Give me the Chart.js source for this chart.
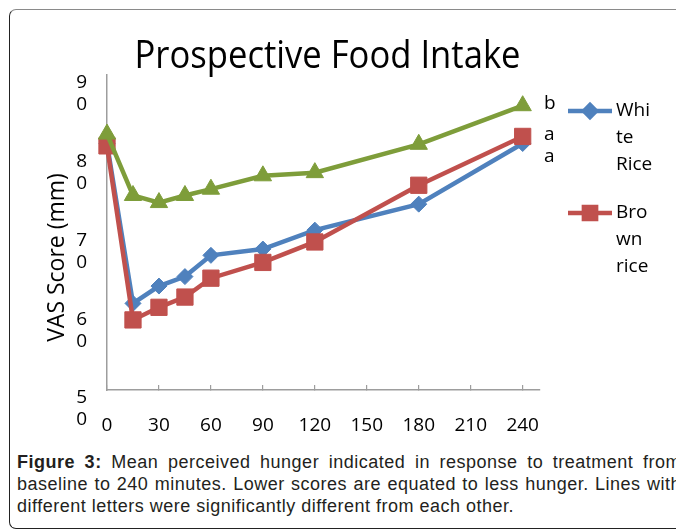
<!DOCTYPE html>
<html>
<head>
<meta charset="utf-8">
<script src="https://cdn.jsdelivr.net/npm/chart.js@4.4.1/dist/chart.umd.min.js"></script>
<style>
    html, body { margin: 0; padding: 0; background: #fff; width: 676px; height: 530px; overflow: hidden; position: relative; }
    #box { position: absolute; left: 9px; top: 9px; width: 720px; height: 518px; border: 1.5px solid #8a8a8a; border-left-color: #222; border-bottom-color: #222; border-radius: 7px; }
    #grafico { position: absolute; left: 0; top: 0; }
    #caption { position: absolute; left: 12px; top: 443px; width: 664px; padding: 8px 0 0 5px; background: #fff;
        font-family: "Liberation Sans Narrow", "Arial Narrow", "Liberation Sans", sans-serif; font-size: 18px; letter-spacing: 0.5px; line-height: 22px;
        text-align: justify; color: #231f20; }
</style>
</head>
<body>
<div id="box"></div>
<canvas id="grafico" width="676" height="476"></canvas>
<div id="caption"><b>Figure 3:</b> Mean perceived hunger indicated in response to treatment from baseline to 240 minutes. Lower scores are equated to less hunger. Lines with different letters were significantly different from each other.</div>
<script>
// Dados (minutos e escore VAS em mm)
const tempos = [0, 15, 30, 45, 60, 90, 120, 180, 240];
const arrozBranco = [81.3, 61.0, 63.2, 64.4, 67.1, 67.9, 70.3, 73.6, 81.3];
const arrozIntegral = [81.0, 58.9, 60.5, 61.8, 64.2, 66.2, 68.8, 76.0, 82.2];
const terceiraSerie = [82.5, 74.7, 73.8, 74.7, 75.5, 77.2, 77.6, 81.2, 86.1];
const nomesSeries = ['White Rice', 'Brown rice', ''];
const letras = ['a', 'a', 'b'];
const ticksX = [0, 30, 60, 90, 120, 150, 180, 210, 240];
const ticksY = [50, 60, 70, 80, 90];
const titulo = 'Prospective Food Intake';

const cores = ['#4F81BD', '#C0504D', '#7E9D3A'];
const estilos = ['rectRot', 'rect', 'triangle'];
const raios = [8, 11.5, 10];

function pontos(valores) {
    return tempos.map((t, i) => ({ x: t, y: valores[i] }));
}

// Quebra o texto como o Excel faz na legenda estreita
function quebrarTexto(ctx, texto, largura) {
    const linhas = [];
    let atual = '';
    texto.split(' ').forEach(palavra => {
        const tentativa = atual ? atual + ' ' + palavra : palavra;
        if (ctx.measureText(tentativa).width <= largura) { atual = tentativa; return; }
        if (atual) { linhas.push(atual); atual = ''; }
        for (const ch of palavra) {
            if (atual && ctx.measureText(atual + ch).width > largura) { linhas.push(atual); atual = ch; }
            else atual += ch;
        }
    });
    if (atual) linhas.push(atual);
    return linhas;
}

function desenharPonto(ctx, estilo, raio, x, y) {
    Chart.helpers.drawPoint(ctx, { pointStyle: estilo, radius: raio, borderWidth: 1, rotation: 0 }, x, y);
}

const extras = {
    id: 'extras',
    afterDraw(chart) {
        const { ctx, chartArea, scales } = chart;
        ctx.save();
        ctx.fillStyle = '#000';

        // título
        ctx.font = "39px 'Open Sans'";
        ctx.textAlign = 'center';
        ctx.textBaseline = 'alphabetic';
        ctx.fillText(titulo, (chartArea.left + chartArea.right) / 2 + 4, 68, 386);

        // título do eixo Y
        ctx.save();
        ctx.font = "23px 'Open Sans'";
        ctx.translate(57, (chartArea.top + chartArea.bottom) / 2 + 25);
        ctx.rotate(-Math.PI / 2);
        ctx.textBaseline = 'middle';
        ctx.fillText('VAS Score (mm)', 0, 0);
        ctx.restore();

        // letras de significância ao lado do último ponto
        ctx.font = "19px 'Open Sans'";
        ctx.textAlign = 'left';
        ctx.textBaseline = 'middle';
        const marcas = chart.data.datasets.map((ds, i) => ({
            letra: letras[i],
            y: scales.y.getPixelForValue(ds.data[ds.data.length - 1].y)
        })).sort((a, b) => a.y - b.y);
        let anterior = -100;
        marcas.forEach(m => {
            const y = Math.max(m.y - 2, anterior + 22);
            ctx.fillText(m.letra, chartArea.right + 4, y);
            anterior = y;
        });

        // legenda (só as duas primeiras séries)
        let yLinha = chartArea.top + 36;
        nomesSeries.forEach((nome, i) => {
            if (!nome) return;
            const x0 = chartArea.right + 28;
            ctx.strokeStyle = cores[i];
            ctx.fillStyle = cores[i];
            ctx.lineWidth = 4.5;
            ctx.beginPath();
            ctx.moveTo(x0, yLinha);
            ctx.lineTo(x0 + 44, yLinha);
            ctx.stroke();
            desenharPonto(ctx, estilos[i], raios[i] * 0.75, x0 + 22, yLinha);
            ctx.fillStyle = '#000';
            const linhas = quebrarTexto(ctx, nome, 38);
            linhas.forEach((l, j) => ctx.fillText(l, x0 + 48, yLinha + j * 27));
            yLinha += linhas.length * 27 + 21;
        });
        ctx.restore();
    }
};

Chart.defaults.font.family = "'Open Sans', sans-serif";
Chart.defaults.color = '#000';

const ctx = document.getElementById('grafico').getContext('2d');
new Chart(ctx, {
    type: 'line',
    data: {
        datasets: [arrozBranco, arrozIntegral, terceiraSerie].map((valores, i) => ({
            label: nomesSeries[i],
            data: pontos(valores),
            borderColor: cores[i],
            backgroundColor: cores[i],
            borderWidth: 4.5,
            pointStyle: estilos[i],
            pointRadius: raios[i],
            pointHoverRadius: raios[i],
            pointBorderWidth: 1,
            pointBackgroundColor: cores[i],
            pointBorderColor: cores[i],
            order: 2 - i,
            clip: false,
            tension: 0
        }))
    },
    options: {
        responsive: false,
        animation: false,
        layout: { padding: { top: 75, right: 136, left: 0, bottom: 0 } },
        plugins: { legend: { display: false }, title: { display: false }, tooltip: { enabled: false } },
        scales: {
            x: {
                type: 'linear',
                min: 0,
                max: 250,
                afterBuildTicks: scale => { scale.ticks = ticksX.map(v => ({ value: v })); },
                afterFit: scale => { scale.height = 86; },
                ticks: { font: { size: 19 }, padding: 29, maxRotation: 0 },
                grid: { drawOnChartArea: false, drawTicks: true, tickLength: -5, color: '#9d9d9d', lineWidth: 1.2 },
                border: { color: '#9d9d9d', width: 1.5 },
                title: { display: true, text: 'Time (min)', font: { size: 23 }, padding: { top: 0, bottom: 8 } }
            },
            y: {
                min: 50,
                max: 90,
                afterBuildTicks: scale => { scale.ticks = ticksY.map(v => ({ value: v })); },
                afterFit: scale => { scale.width = 107; },
                ticks: {
                    font: { size: 19, lineHeight: 1.16 },
                    padding: 12,
                    labelOffset: 19,
                    callback: v => String(v).split('')
                },
                grid: { display: false },
                border: { color: '#9d9d9d', width: 1.5 }
            }
        }
    },
    plugins: [extras]
});
</script>
</body>
</html>
